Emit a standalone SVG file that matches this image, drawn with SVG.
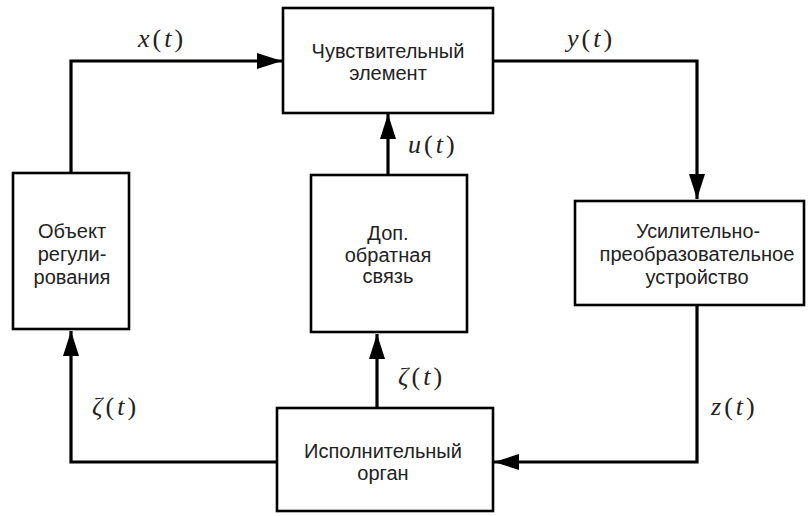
<svg xmlns="http://www.w3.org/2000/svg" width="811" height="516" viewBox="0 0 811 516">
<style>
.box{fill:#fff;stroke:#000;stroke-width:2.6}
.lbl{font-family:"Liberation Sans",Arial,sans-serif;font-size:20px;fill:#222;text-anchor:middle}
.wire{fill:none;stroke:#000;stroke-width:3.2}
.m{font-family:"Liberation Serif","Times New Roman","DejaVu Serif",serif;font-size:26px;fill:#222}
.i{font-style:italic}
</style>
<defs>
<marker id="ah" markerUnits="userSpaceOnUse" markerWidth="26" markerHeight="18" refX="25" refY="8" orient="auto">
<path d="M0,0 L25,8 L0,16 z" fill="#000"/>
</marker>
</defs>
<rect width="811" height="516" fill="#fff"/>
<g id="connectors">
<path class="wire" d="M71,173 V61 H282" marker-end="url(#ah)"/>
<path class="wire" d="M493,61 H697 V199" marker-end="url(#ah)"/>
<path class="wire" d="M697,305 V462 H494" marker-end="url(#ah)"/>
<path class="wire" d="M277,462 H71 V331" marker-end="url(#ah)"/>
<path class="wire" d="M377,408 V334" marker-end="url(#ah)"/>
<path class="wire" d="M388,175 V114" marker-end="url(#ah)"/>
</g>
<g id="n-sens">
<rect class="box" x="283" y="8" width="210" height="105"/>
<text class="lbl" x="388" y="58">Чувствительный</text>
<text class="lbl" x="388" y="80">элемент</text>
</g>
<g id="n-obj">
<rect class="box" x="13" y="173" width="116" height="156"/>
<text class="lbl" x="72" y="238">Объект</text>
<text class="lbl" x="72" y="261">регули-</text>
<text class="lbl" x="72" y="284">рования</text>
</g>
<g id="n-fb">
<rect class="box" x="311" y="175" width="156" height="157"/>
<text class="lbl" x="388" y="240">Доп.</text>
<text class="lbl" x="388" y="262">обратная</text>
<text class="lbl" x="388" y="283">связь</text>
</g>
<g id="n-amp">
<rect class="box" x="575" y="201" width="229" height="104"/>
<text class="lbl" x="698" y="238" textLength="124" lengthAdjust="spacingAndGlyphs">Усилительно-</text>
<text class="lbl" x="697" y="261" textLength="195" lengthAdjust="spacingAndGlyphs">преобразовательное</text>
<text class="lbl" x="697" y="284">устройство</text>
</g>
<g id="n-act">
<rect class="box" x="277" y="408" width="216" height="103"/>
<text class="lbl" x="383" y="458">Исполнительный</text>
<text class="lbl" x="383" y="480">орган</text>
</g>
<g id="labels">
<text class="m" x="138" y="47"><tspan class="i">x</tspan><tspan dx="3">(</tspan><tspan class="i" dx="3">t</tspan><tspan dx="3">)</tspan></text>
<text class="m" x="567" y="47"><tspan class="i">y</tspan><tspan dx="3">(</tspan><tspan class="i" dx="3">t</tspan><tspan dx="3">)</tspan></text>
<text class="m" x="408" y="153"><tspan class="i">u</tspan><tspan dx="3">(</tspan><tspan class="i" dx="3">t</tspan><tspan dx="3">)</tspan></text>
<text class="m" x="92" y="415"><tspan class="i">ζ</tspan><tspan dx="3">(</tspan><tspan class="i" dx="3">t</tspan><tspan dx="3">)</tspan></text>
<text class="m" x="398" y="385"><tspan class="i">ζ</tspan><tspan dx="3">(</tspan><tspan class="i" dx="3">t</tspan><tspan dx="3">)</tspan></text>
<text class="m" x="711" y="415"><tspan class="i">z</tspan><tspan dx="3">(</tspan><tspan class="i" dx="3">t</tspan><tspan dx="3">)</tspan></text>
</g>
</svg>
